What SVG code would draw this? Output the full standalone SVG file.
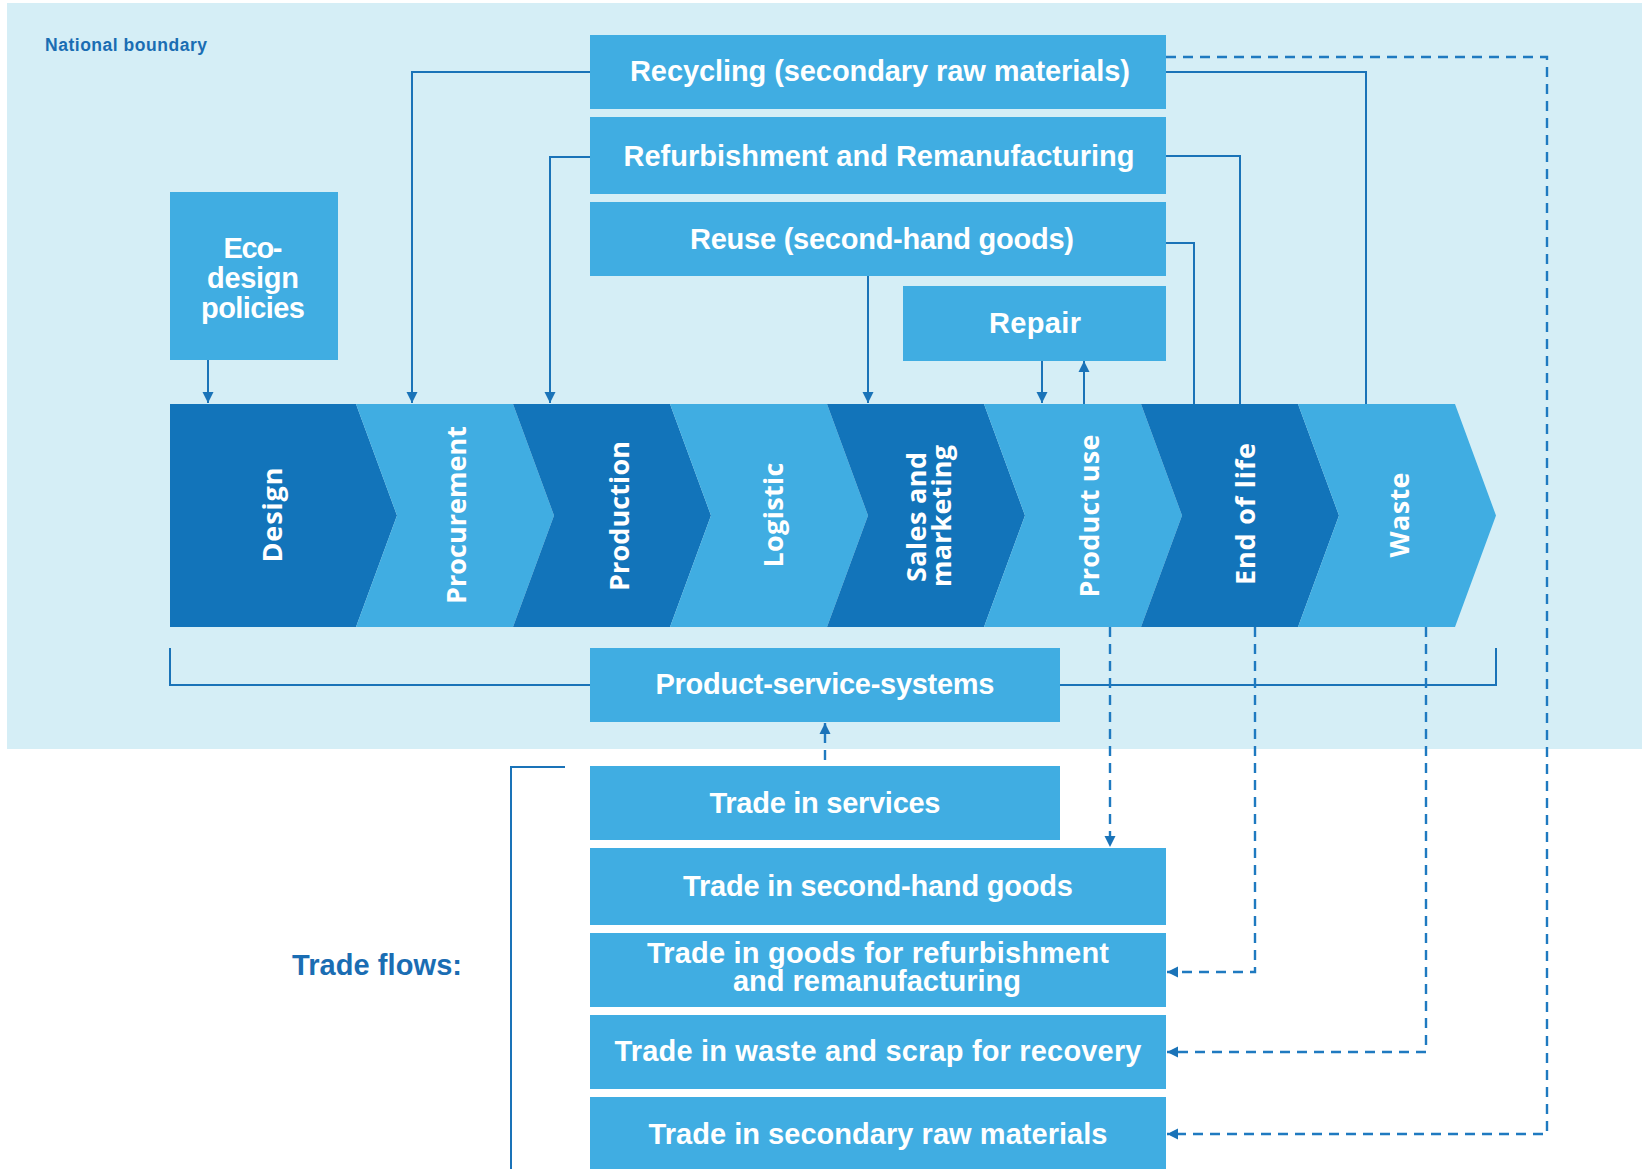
<svg xmlns="http://www.w3.org/2000/svg" width="1642" height="1169" viewBox="0 0 1642 1169">
<defs>
<marker id="arr" markerUnits="userSpaceOnUse" markerWidth="12" markerHeight="12" refX="11" refY="6" orient="auto">
<path d="M0,0.5 L11,6 L0,11.5 z" fill="#1a73b8"/>
</marker>
<style>
.box{fill:#40ade2}
.dark{fill:#1274ba}
.light{fill:#40ade2}
.bt{font-family:"Liberation Sans",Arial,sans-serif;font-weight:700;font-size:29px;fill:#ffffff;text-anchor:middle}
.ct{font-family:"Open Sans","Liberation Sans",sans-serif;font-weight:700;font-size:27px;fill:#ffffff;text-anchor:middle}
.ln{fill:none;stroke:#1a73b8;stroke-width:2}
.dl{fill:none;stroke:#1f7ac0;stroke-width:2.4;stroke-dasharray:10 7}
.lbl{font-family:"Liberation Sans",Arial,sans-serif;font-weight:700;fill:#1a6db3}
</style>
</defs>
<rect x="7" y="3" width="1635" height="746" fill="#d5eef6"/>
<text class="lbl" x="45" y="51" font-size="17.5" textLength="162">National boundary</text>
<text class="lbl" x="292" y="975" font-size="29" textLength="170">Trade flows:</text>

<g id="connectors">
<path class="ln" d="M208,360 V403" marker-end="url(#arr)"/>
<path class="ln" d="M590,72 H412 V403" marker-end="url(#arr)"/>
<path class="ln" d="M590,157 H550 V403" marker-end="url(#arr)"/>
<path class="ln" d="M868,276 V403" marker-end="url(#arr)"/>
<path class="ln" d="M1042,361 V403" marker-end="url(#arr)"/>
<path class="ln" d="M1084,404 V361" marker-end="url(#arr)"/>
<path class="ln" d="M1166,243 H1194 V404"/>
<path class="ln" d="M1166,156 H1240 V404"/>
<path class="ln" d="M1166,72 H1366 V404"/>
<path class="ln" d="M170,648 V685 H590"/>
<path class="ln" d="M1060,685 H1496 V648"/>
<path class="ln" d="M565,767 H511 V1169"/>
<path class="dl" d="M1166,57 H1547 V1134 H1167" marker-end="url(#arr)"/>
<path class="dl" d="M825,760 V723" marker-end="url(#arr)"/>
<path class="dl" d="M1110,627 V847" marker-end="url(#arr)"/>
<path class="dl" d="M1255,627 V972 H1167" marker-end="url(#arr)"/>
<path class="dl" d="M1426,627 V1052 H1167" marker-end="url(#arr)"/>
</g>

<g id="eco-design">
<rect class="box" x="170" y="192" width="168" height="168"/>
<text class="bt" x="253" y="258" textLength="59">Eco-</text>
<text class="bt" x="253" y="288" textLength="92">design</text>
<text class="bt" x="253" y="318" textLength="104">policies</text>
</g>
<g id="recycling">
<rect class="box" x="590" y="35" width="576" height="74"/>
<text class="bt" x="880" y="81" textLength="500">Recycling (secondary raw materials)</text>
</g>
<g id="refurbishment">
<rect class="box" x="590" y="117" width="576" height="77"/>
<text class="bt" x="879" y="166" textLength="511">Refurbishment and Remanufacturing</text>
</g>
<g id="reuse">
<rect class="box" x="590" y="202" width="576" height="74"/>
<text class="bt" x="882" y="249" textLength="384">Reuse (second-hand goods)</text>
</g>
<g id="repair">
<rect class="box" x="903" y="286" width="263" height="75"/>
<text class="bt" x="1035" y="333" textLength="92">Repair</text>
</g>

<g id="design">
<polygon class="dark" points="170,404 356,404 397,515.5 356,627 170,627"/>
<text class="ct" transform="translate(282,515) rotate(-90)" textLength="95">Design</text>
</g>
<g id="procurement">
<polygon class="light" points="356,404 513,404 554,515.5 513,627 356,627 397,515.5"/>
<text class="ct" transform="translate(466,515) rotate(-90)" textLength="178">Procurement</text>
</g>
<g id="production">
<polygon class="dark" points="513,404 670,404 711,515.5 670,627 513,627 554,515.5"/>
<text class="ct" transform="translate(629,516) rotate(-90)" textLength="150">Production</text>
</g>
<g id="logistic">
<polygon class="light" points="670,404 827,404 868,515.5 827,627 670,627 711,515.5"/>
<text class="ct" transform="translate(783,515) rotate(-90)" textLength="105">Logistic</text>
</g>
<g id="sales">
<polygon class="dark" points="827,404 984,404 1025,515.5 984,627 827,627 868,515.5"/>
<text class="ct" font-size="25" transform="translate(926,517) rotate(-90)" textLength="130">Sales and</text>
<text class="ct" font-size="25" transform="translate(951,516) rotate(-90)" textLength="142">marketing</text>
</g>
<g id="product-use">
<polygon class="light" points="984,404 1141,404 1182,515.5 1141,627 984,627 1025,515.5"/>
<text class="ct" transform="translate(1099,516) rotate(-90)" textLength="163">Product use</text>
</g>
<g id="end-of-life">
<polygon class="dark" points="1141,404 1298,404 1339,515.5 1298,627 1141,627 1182,515.5"/>
<text class="ct" transform="translate(1255,514) rotate(-90)" textLength="142">End of life</text>
</g>
<g id="waste">
<polygon class="light" points="1298,404 1455,404 1496,515.5 1455,627 1298,627 1339,515.5"/>
<text class="ct" transform="translate(1409,515) rotate(-90)" textLength="85">Waste</text>
</g>

<g id="pss">
<rect class="box" x="590" y="648" width="470" height="74"/>
<text class="bt" x="825" y="694" textLength="339">Product-service-systems</text>
</g>
<g id="trade-services">
<rect class="box" x="590" y="766" width="470" height="74"/>
<text class="bt" x="825" y="813" textLength="231">Trade in services</text>
</g>
<g id="trade-second-hand">
<rect class="box" x="590" y="848" width="576" height="77"/>
<text class="bt" x="878" y="896" textLength="390">Trade in second-hand goods</text>
</g>
<g id="trade-refurb">
<rect class="box" x="590" y="933" width="576" height="74"/>
<text class="bt" x="878" y="963" font-size="27" textLength="462">Trade in goods for refurbishment</text>
<text class="bt" x="877" y="991" font-size="27" textLength="288">and remanufacturing</text>
</g>
<g id="trade-waste">
<rect class="box" x="590" y="1015" width="576" height="74"/>
<text class="bt" x="878" y="1061" textLength="527">Trade in waste and scrap for recovery</text>
</g>
<g id="trade-secondary">
<rect class="box" x="590" y="1097" width="576" height="72"/>
<text class="bt" x="878" y="1144" textLength="459">Trade in secondary raw materials</text>
</g>
</svg>
